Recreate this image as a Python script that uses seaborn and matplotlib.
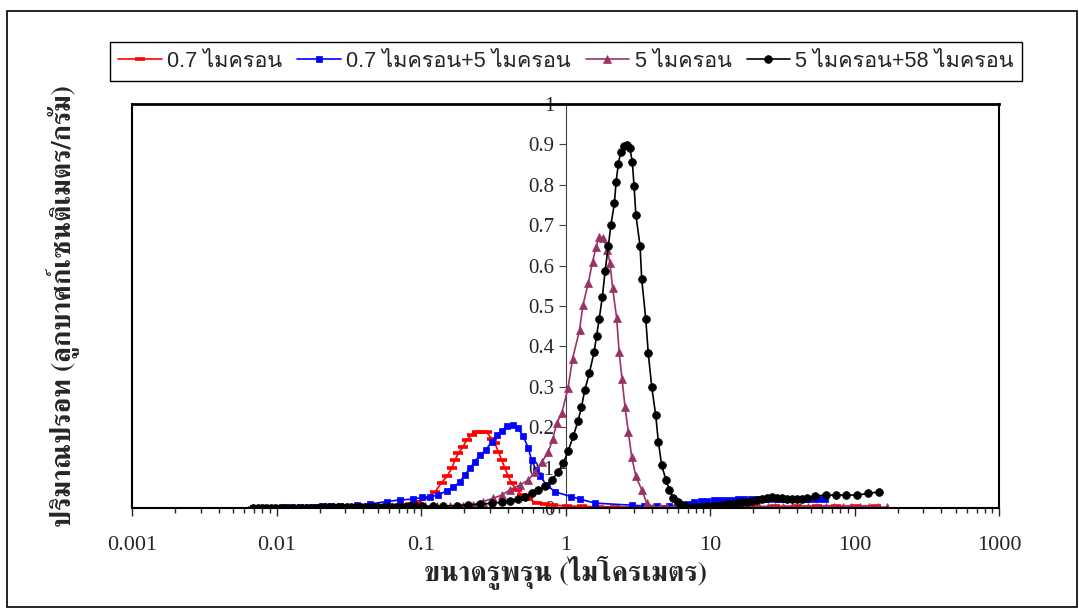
import numpy as np
import pandas as pd
import matplotlib
matplotlib.use("Agg")
import matplotlib.pyplot as plt
import seaborn as sns
from matplotlib import font_manager, ft2font
from matplotlib.patches import Rectangle
from matplotlib.ticker import LogLocator, NullFormatter, FixedLocator

# ---------------- data ----------------
series_names = ["0.7 ไมครอน", "0.7 ไมครอน+5 ไมครอน", "5 ไมครอน", "5 ไมครอน+58 ไมครอน"]

red_x = [0.0069, 0.0078, 0.0088, 0.01, 0.0113, 0.0128, 0.0145, 0.0164, 0.0186, 0.021, 0.0238, 0.027,
         0.0305, 0.0345, 0.039, 0.0442, 0.05, 0.0566, 0.064, 0.0716, 0.0834, 0.0934, 0.110, 0.125,
         0.139, 0.151, 0.163, 0.172, 0.181, 0.194, 0.207, 0.224, 0.243, 0.263, 0.285, 0.308, 0.325,
         0.343, 0.362, 0.381, 0.402, 0.424, 0.459, 0.497, 0.553, 0.632, 0.722, 0.824, 1.02, 1.3, 1.7,
         2.2, 3.0, 4.0, 5.0, 7.0, 10, 14, 20, 28, 40, 55, 75, 100, 140]
red_y = [0.001, 0.001, 0.001, 0.001, 0.001, 0.001, 0.001, 0.001, 0.001, 0.002, 0.002, 0.002,
         0.002, 0.002, 0.003, 0.003, 0.003, 0.004, 0.005, 0.007, 0.010, 0.016, 0.024, 0.040,
         0.063, 0.078, 0.098, 0.119, 0.135, 0.150, 0.168, 0.181, 0.189, 0.189, 0.187, 0.172, 0.160,
         0.139, 0.119, 0.098, 0.078, 0.061, 0.045, 0.032, 0.022, 0.013, 0.009, 0.007, 0.005, 0.004, 0.003,
         0.003, 0.002, 0.002, 0.002, 0.002, 0.003, 0.003, 0.004, 0.004, 0.005, 0.005, 0.005, 0.005, 0.005]

blue_x = [0.0069, 0.0078, 0.0088, 0.01, 0.0113, 0.0128, 0.0145, 0.0164, 0.0186, 0.021, 0.0238, 0.0275,
          0.0359, 0.0444, 0.0579, 0.0716, 0.0885, 0.101, 0.115, 0.132, 0.151, 0.167, 0.186, 0.201,
          0.218, 0.236, 0.256, 0.282, 0.308, 0.334, 0.362, 0.392, 0.431, 0.471, 0.511, 0.553, 0.583,
          0.625, 0.666, 0.741, 0.846, 1.10, 1.26, 1.60, 2.87, 3.5, 4.3, 5.2, 6.2, 7.0, 7.8, 8.7, 9.6,
          10.6, 11.7, 12.9, 14.2, 15.7, 17.3, 19.1, 21.1, 23.3, 25.7, 28.4, 31.3, 34.6, 38.2, 42.2,
          46.6, 51.4, 56.8, 62.7]
blue_y = [0.001, 0.001, 0.001, 0.001, 0.002, 0.002, 0.002, 0.003, 0.003, 0.004, 0.004, 0.005,
          0.007, 0.010, 0.016, 0.020, 0.022, 0.026, 0.028, 0.032, 0.043, 0.051, 0.065, 0.082,
          0.098, 0.115, 0.131, 0.144, 0.164, 0.181, 0.191, 0.203, 0.205, 0.197, 0.177, 0.148, 0.118,
          0.095, 0.078, 0.057, 0.040, 0.028, 0.022, 0.012, 0.007, 0.005, 0.004, 0.004, 0.005, 0.010,
          0.015, 0.017, 0.018, 0.019, 0.020, 0.020, 0.021, 0.022, 0.022, 0.022, 0.022, 0.023, 0.023,
          0.023, 0.023, 0.023, 0.023, 0.022, 0.022, 0.022, 0.022, 0.022]

purple_x = [0.0069, 0.0078, 0.0088, 0.01, 0.0113, 0.0128, 0.0145, 0.0164, 0.0186, 0.021, 0.0238,
            0.027, 0.0305, 0.0345, 0.039, 0.0442, 0.05, 0.061, 0.084, 0.107, 0.129, 0.159, 0.195,
            0.229, 0.269, 0.315, 0.362, 0.413, 0.484, 0.553, 0.615, 0.690, 0.760, 0.815, 0.869,
            0.941, 1.04, 1.12, 1.25, 1.32, 1.44, 1.54, 1.63, 1.71, 1.83, 1.95, 2.03, 2.12, 2.26,
            2.35, 2.46, 2.58, 2.72, 2.87, 3.07, 3.37, 3.65, 4.05, 4.5, 5.0, 5.6, 6.2, 7.0, 8.0, 9.0,
            10, 11.5, 13, 15, 17, 19.5, 22, 25, 28, 32, 37, 42, 48, 55, 63, 72, 83, 95, 110, 127,
            146, 168]
purple_y = [0.001, 0.001, 0.001, 0.001, 0.001, 0.001, 0.001, 0.001, 0.001, 0.001, 0.001,
            0.001, 0.002, 0.002, 0.002, 0.002, 0.002, 0.003, 0.003, 0.004, 0.004, 0.005, 0.005,
            0.008, 0.016, 0.024, 0.032, 0.045, 0.057, 0.069, 0.090, 0.115, 0.139, 0.170, 0.210,
            0.234, 0.296, 0.370, 0.440, 0.502, 0.558, 0.610, 0.647, 0.672, 0.668, 0.639, 0.606,
            0.544, 0.470, 0.387, 0.320, 0.251, 0.189, 0.127, 0.078, 0.045, 0.012, 0.003, 0.002,
            0.002, 0.002, 0.002, 0.002, 0.002, 0.002, 0.002, 0.002, 0.002, 0.002, 0.002, 0.002,
            0.002, 0.002, 0.002, 0.002, 0.002, 0.002, 0.002, 0.002, 0.002, 0.002, 0.002, 0.002,
            0.002, 0.002, 0.002, 0.002]

black_x = [0.0069, 0.0074, 0.0079, 0.0085, 0.0091, 0.0098, 0.0105, 0.0113, 0.0121, 0.013, 0.014,
           0.015, 0.0161, 0.0173, 0.0186, 0.02, 0.0215, 0.0231, 0.0248, 0.0266, 0.0286, 0.0307,
           0.033, 0.0355, 0.0381, 0.041, 0.044, 0.0473, 0.0508, 0.0546, 0.0587, 0.063, 0.0677,
           0.0728, 0.0782, 0.084, 0.0903, 0.101, 0.121, 0.142, 0.177, 0.211, 0.256, 0.308, 0.362,
           0.413, 0.471, 0.525, 0.583, 0.648, 0.722, 0.803, 0.892, 0.966, 1.04, 1.13, 1.22, 1.29,
           1.36, 1.46, 1.58, 1.64, 1.71, 1.80, 1.88, 1.98, 2.06, 2.18, 2.24, 2.32, 2.41, 2.54, 2.65,
           2.79, 2.90, 2.98, 3.07, 3.28, 3.37, 3.59, 3.74, 3.95, 4.21, 4.39, 4.63, 4.96, 5.23, 5.57,
           6.03, 6.50, 6.93, 7.50, 8.12, 8.80, 9.53, 10.3, 11.2, 12.1, 13.1, 14.2, 15.4, 16.6, 18.0,
           19.5, 21.1, 22.9, 24.8, 26.9, 29.1, 31.5, 34.1, 36.9, 40.0, 43.3, 46.9, 53.3, 63.5,
           74.5, 87.3, 104, 124, 148]
black_y = [0.001, 0.001, 0.001, 0.001, 0.001, 0.001, 0.001, 0.001, 0.001, 0.001, 0.001,
           0.001, 0.001, 0.001, 0.001, 0.002, 0.002, 0.002, 0.002, 0.002, 0.002, 0.002,
           0.002, 0.002, 0.002, 0.002, 0.002, 0.003, 0.003, 0.003, 0.003, 0.003, 0.003,
           0.003, 0.003, 0.004, 0.004, 0.004, 0.005, 0.005, 0.006, 0.008, 0.009, 0.012, 0.014,
           0.018, 0.022, 0.028, 0.036, 0.045, 0.054, 0.069, 0.090, 0.111, 0.140, 0.177, 0.215, 0.250,
           0.292, 0.333, 0.387, 0.426, 0.468, 0.523, 0.587, 0.649, 0.700, 0.754, 0.808, 0.851, 0.882,
           0.896, 0.898, 0.890, 0.857, 0.798, 0.725, 0.649, 0.566, 0.469, 0.383, 0.300, 0.230, 0.164,
           0.106, 0.069, 0.045, 0.024, 0.016, 0.008, 0.003, 0.002, 0.002, 0.003, 0.004, 0.005, 0.006,
           0.007, 0.009, 0.011, 0.012, 0.014, 0.016, 0.018, 0.020, 0.022, 0.024, 0.026, 0.025, 0.024,
           0.023, 0.023, 0.023, 0.023, 0.024, 0.030, 0.032, 0.032, 0.032, 0.032, 0.036, 0.040]

x_ticks = [0.001, 0.01, 0.1, 1, 10, 100, 1000]
x_tick_labels = ["0.001", "0.01", "0.1", "1", "10", "100", "1000"]
y_ticks = [0, 0.1, 0.2, 0.3, 0.4, 0.5, 0.6, 0.7, 0.8, 0.9, 1]
y_tick_labels = ["0", "0.1", "0.2", "0.3", "0.4", "0.5", "0.6", "0.7", "0.8", "0.9", "1"]
x_label = "ขนาดรูพรุน (ไมโครเมตร)"
y_label = "ปริมาณปรอท (ลูกบาศก์เซนติเมตร/กรัม)"

# ---------------- fonts ----------------
sns.set_style("white")
thai_fams = set()
for f in font_manager.fontManager.ttflist:
    try:
        cm = ft2font.FT2Font(f.fname).get_charmap()
        if 0x0E44 in cm and 0x0E01 in cm:
            thai_fams.add(f.name)
    except Exception:
        pass


def pick(prefs):
    out = [p for p in prefs if p in thai_fams]
    return out if out else sorted(thai_fams)[:1]


thai_serif = pick(["FreeSerif", "Taviraj", "Trirong", "Noto Serif Thai", "Sarabun"])
thai_sans = pick(["Loma", "Noto Sans Thai", "Sarabun", "Anuphan"])
plt.rcParams["font.family"] = ["Liberation Serif"] + thai_serif + ["DejaVu Sans"]
plt.rcParams["axes.unicode_minus"] = False

# ---------------- figure ----------------
fig = plt.figure(figsize=(10.79, 6.10), dpi=100)
ax = fig.add_axes([132 / 1079, 1 - 508 / 610, (999 - 132) / 1079, (508 - 104) / 610])

series = [
    (red_x, red_y, "#FF0000", "_", 7, 2.6),
    (blue_x, blue_y, "#0000FF", "s", 5.0, 0.5),
    (purple_x, purple_y, "#993366", "^", 6.0, 0.5),
    (black_x, black_y, "#000000", "o", 5.6, 0.5),
]
for name, (xs, ys, col, mk, ms, mew) in zip(series_names, series):
    df = pd.DataFrame({"x": xs, "y": ys})
    sns.lineplot(data=df, x="x", y="y", ax=ax, color=col, marker=mk, markersize=ms,
                 markeredgewidth=mew, markeredgecolor=col, linewidth=1.2, label=name,
                 estimator=None, sort=False)

ax.set_xscale("log")
ax.set_xlim(0.001, 1000)
ax.set_ylim(0, 1)
ax.xaxis.set_major_locator(FixedLocator(x_ticks))
ax.set_xticklabels(x_tick_labels, fontsize=16, family="Liberation Serif")
ax.xaxis.set_minor_locator(LogLocator(base=10, subs=np.arange(2, 10)))
ax.xaxis.set_minor_formatter(NullFormatter())
ax.tick_params(axis="x", which="major", direction="out", length=6, width=1, pad=14, bottom=True)
ax.tick_params(axis="x", which="minor", direction="out", length=3.6, width=1, bottom=True)
ax.set_yticks([])
for side in ["top", "right", "bottom", "left"]:
    ax.spines[side].set_visible(True)
    ax.spines[side].set_color("black")
ax.spines["top"].set_linewidth(2.0)
ax.spines["right"].set_linewidth(1.5)
ax.spines["bottom"].set_linewidth(1.5)
ax.spines["left"].set_linewidth(1.5)

sec = ax.secondary_yaxis(0.5)
sec.set_alignment("left")
sec.set_yticks(y_ticks)
sec.set_yticklabels(y_tick_labels, fontsize=15, family="Liberation Serif")
sec.spines["left"].set_color("#404040")
sec.spines["left"].set_linewidth(0.8)
sec.tick_params(axis="y", direction="out", length=5, width=0.8, pad=3, color="#404040")

ax.set_xlabel(x_label, fontsize=20, fontweight="bold", family=thai_serif + ["DejaVu Sans"], labelpad=0)
ax.set_ylabel("")
fig.text(62 / 1079, 1 - 306 / 610, y_label, rotation=90, ha="center", va="center",
         fontsize=20, fontweight="bold", family=thai_serif + ["DejaVu Sans"])

handles, labels = ax.get_legend_handles_labels()
ax.get_legend().remove()
leg = fig.legend(handles, labels, loc="center", bbox_to_anchor=(566 / 1079, 1 - 61.5 / 610),
                 ncol=4, frameon=True, fancybox=False, edgecolor="black", framealpha=1,
                 prop={"family": ["Liberation Sans"] + thai_sans + ["DejaVu Sans"], "size": 15.6},
                 handlelength=2.0, handletextpad=0.25, columnspacing=0.7, borderpad=0.4,
                 borderaxespad=0)
leg.get_frame().set_linewidth(1.0)

fig.patches.append(Rectangle((7 / 1079, 3 / 610), 1070 / 1079, 596 / 610, transform=fig.transFigure,
                             fill=False, edgecolor="black", linewidth=1.2))

fig.savefig("out.png", dpi=100)
